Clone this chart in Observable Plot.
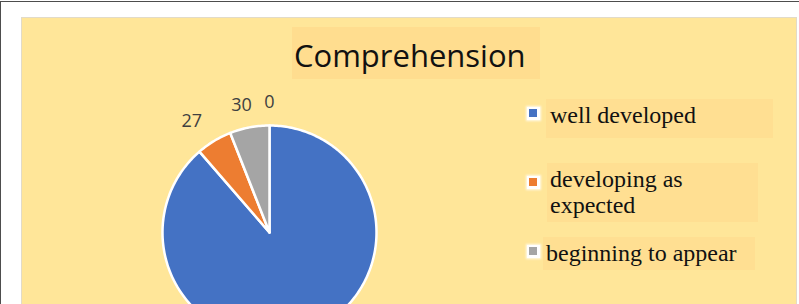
<!DOCTYPE html>
<html>
<head>
<meta charset="utf-8">
<script src="https://cdn.jsdelivr.net/npm/d3@7"></script>
<script src="https://cdn.jsdelivr.net/npm/@observablehq/plot@0.6"></script>
<style>
  html, body { margin: 0; padding: 0; background: #fff; }
  #wrap { position: relative; width: 799px; height: 304px; overflow: hidden; background: #fff; }
  #frameTop { position: absolute; left: 1px; top: 1px; width: 798px; height: 0; border-top: 1.5px solid #4d4d4d; }
  #frameLeft { position: absolute; left: 0; top: 1px; width: 0; height: 303px; border-left: 1.5px solid #4d4d4d; }
  #panel { position: absolute; left: 21px; top: 17px; width: 774px; height: 300px; background: #FFE699; border: 1px solid #E2DBC8; }
  #chart { position: absolute; left: 0; top: 0; }
  #title { position: absolute; left: 292px; top: 27px; width: 246px; height: 44px; padding: 8px 0 0 2px;
           background: #FFDD8F; font: 31px/40px "Open Sans", sans-serif; color: #111; white-space: nowrap; }
  .legText { position: absolute; box-sizing: border-box; background: #FFDF92; padding-top: 3px;
             font: 24px/26px "Liberation Serif", serif; color: #111; }
  .legMark { position: absolute; width: 13px; height: 13px; background: #fff; box-shadow: 0 0 2px 1px rgba(255,255,255,0.8); }
  .legMark i { position: absolute; left: 2.5px; top: 2.5px; width: 8px; height: 8px; }
</style>
</head>
<body>
<div id="wrap">
  <div id="frameTop"></div>
  <div id="frameLeft"></div>
  <div id="panel"></div>
  <div id="chart"></div>
  <div id="title"></div>
  <div id="legend"></div>
</div>
<script>
// ---- data ----
const title = "Comprehension";
const categories = ["well developed", "developing as expected", "beginning to appear", ""];
const values = [445, 27, 30, 0];
const colors = ["#4472C4", "#ED7D31", "#A5A5A5", "#FFC000"];

// ---- layout (pixels) ----
const W = 799, H = 304;
const cx = 269, cy = 232, r = 107;
const labelRx = 150, labelRy = 130;
const legLayout = [
  {top: 99,  left: 546, width: 227, height: 39, pad: 4, markY: 113},
  {top: 163, left: 547, width: 211, height: 59, pad: 3, markY: 182},
  {top: 237, left: 543, width: 212, height: 33, pad: 3, markY: 251}
];
const markX = 533;

const data = categories.map((c, i) => ({category: c, value: values[i]}));
const arcs = d3.pie().sort(null).value(d => d.value)(data);

const slicePts = [];
arcs.forEach(a => {
  const span = a.endAngle - a.startAngle;
  if (span <= 0) return;
  const key = a.data.category;
  const n = Math.max(2, Math.ceil(span / (Math.PI / 180)));
  slicePts.push({key, x: cx, y: cy});
  for (let i = 0; i <= n; i++) {
    const t = a.startAngle + span * i / n;
    slicePts.push({key, x: cx + r * Math.sin(t), y: cy - r * Math.cos(t)});
  }
  slicePts.push({key, x: cx, y: cy});
});

// data labels (the one of the large slice falls below the visible area, as in the reference)
const labels = arcs.map(a => {
  const m = (a.startAngle + a.endAngle) / 2;
  return {text: String(a.data.value), x: cx + labelRx * Math.sin(m), y: cy - labelRy * Math.cos(m)};
}).filter(d => d.y < H - 10);

const plot = Plot.plot({
  width: W, height: H, margin: 0,
  style: {background: "transparent"},
  x: {domain: [0, W], range: [0, W], axis: null},
  y: {domain: [0, H], range: [0, H], axis: null},
  color: {domain: categories, range: colors},
  marks: [
    Plot.line(slicePts, {x: "x", y: "y", z: "key", fill: "key", stroke: "white", strokeWidth: 2.5, strokeLinejoin: "round"}),
    Plot.text(labels, {x: "x", y: "y", text: "text", fontSize: 18, fill: "#404040",
      fontFamily: "Open Sans", textAnchor: "middle", lineAnchor: "middle"})
  ]
});
document.getElementById("chart").appendChild(plot);

document.getElementById("title").textContent = title;

const legend = document.getElementById("legend");
legLayout.forEach((L, i) => {
  const t = document.createElement("div");
  t.className = "legText";
  t.style.left = L.left + "px";
  t.style.top = L.top + "px";
  t.style.width = L.width + "px";
  t.style.height = L.height + "px";
  t.style.paddingLeft = L.pad + "px";
  t.textContent = categories[i];
  legend.appendChild(t);
  const m = document.createElement("div");
  m.className = "legMark";
  m.style.left = (markX - 6.5) + "px";
  m.style.top = (L.markY - 6.5) + "px";
  const inner = document.createElement("i");
  inner.style.background = colors[i];
  m.appendChild(inner);
  legend.appendChild(m);
});
</script>
</body>
</html>
